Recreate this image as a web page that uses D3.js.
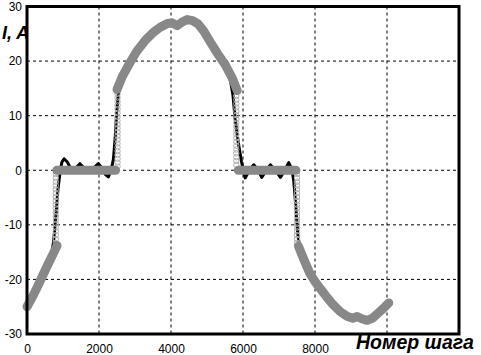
<!DOCTYPE html>
<html>
<head>
<meta charset="utf-8">
<script src="https://cdn.jsdelivr.net/npm/d3@7"></script>
<style>
  body { margin: 0; background: #fff; }
  text { font-family: Arial, "Liberation Sans", sans-serif; }
</style>
</head>
<body>
<div class="d3-content"></div>
<script>
const SVG_WIDTH = 481;
const SVG_HEIGHT = 355;
const PLOT = { left: 27, right: 459, top: 6.5, bottom: 334 };

// axis ticks
const xTicks = [0, 2000, 4000, 6000, 8000, 10000, 12000];
const xTickLabels = ['0', '2000', '4000', '6000', '8000', '', ''];
const yTicks = [-30, -20, -10, 0, 10, 20, 30];
const yTickLabels = ['-30', '-20', '-10', '0', '10', '20', '30'];

// reference (gray, thick) current, null = gap between segments
const refCurrent = [
  [0, -25], [150, -23.2], [300, -21.2], [450, -19.1], [600, -17], [720, -15.4], [835, -13.8],
  null,
  [830, 0], [2460, 0],
  null,
  [2500, 14.8], [2650, 17.2], [2850, 19.6], [3050, 21.8], [3300, 23.9], [3500, 25.2],
  [3700, 26.2], [3900, 26.9], [4030, 27.0], [4170, 26.5], [4300, 27.1], [4450, 27.6],
  [4600, 27.4], [4750, 26.8], [4900, 25.6], [5100, 23.4], [5300, 21.3], [5500, 19.4],
  [5700, 16.9], [5840, 14.6],
  null,
  [5870, 0], [7470, 0],
  null,
  [7540, -13.9], [7700, -16.5], [7850, -18.8], [8000, -20.4], [8150, -21.7], [8300, -23],
  [8500, -24.6], [8700, -25.9], [8900, -26.8], [9050, -27.1], [9170, -26.8], [9300, -27.2],
  [9450, -27.5], [9600, -27.1], [9750, -26.2], [9900, -25.3], [10050, -24.3]
];

// measured (black) current
const measCurrent = [
  [0, -25], [150, -23.2], [300, -21.2], [450, -19.1], [600, -17], [680, -15.6], [740, -13],
  [800, -8.5], [860, -3.5], [920, -0.3], [970, 1.5], [1030, 2.1], [1120, 1.5], [1240, 0],
  [1340, 0.3], [1470, 1.2], [1600, 0.3], [1720, 0], [1850, 0.4], [1980, 1.2], [2100, 0.3],
  [2180, -0.8], [2260, -1.2], [2330, -0.2], [2400, 2.0], [2450, 6], [2490, 10.5], [2540, 14.2],
  [2650, 17], [2850, 19.4], [3050, 21.7], [3300, 23.9], [3500, 25.2], [3700, 26.2],
  [3900, 26.9], [4030, 27.0], [4170, 26.5], [4300, 27.1], [4450, 27.6], [4600, 27.4],
  [4750, 26.8], [4900, 25.6], [5100, 23.4], [5300, 21.3], [5500, 19.4], [5650, 16.5],
  [5720, 13.8], [5780, 9.5], [5870, 5], [5960, 1.5], [6060, -1.4], [6180, 0], [6300, 1.0],
  [6420, 0], [6520, -1.3], [6650, 0], [6760, 1.0], [6900, 0], [7040, -1.3], [7160, 0],
  [7270, 1.4], [7360, 0.2], [7410, -2], [7460, -6], [7520, -11.5], [7580, -14.5],
  [7680, -17.2], [7850, -18.8], [8000, -20.4], [8150, -21.7], [8300, -23], [8500, -24.6],
  [8700, -25.9], [8900, -26.8], [9050, -27.1], [9170, -26.8], [9300, -27.2], [9450, -27.5],
  [9600, -27.1], [9750, -26.2], [9900, -25.3], [10050, -24.3]
];

// model points (open circles) on the switching fronts
const circleFronts = [
  { step: 800, values: [-14, -13.3, -12.6, -11.9, -11.2, -10.5, -9.8, -9.1, -8.4, -7.7,
                        -7, -6.3, -5.6, -4.9, -4.2, -3.5, -2.8, -2.1, -1.4, -0.7] },
  { step: 2515, values: [0.7, 1.4, 2.1, 2.8, 3.5, 4.2, 4.9, 5.6, 6.3, 7, 7.7, 8.4,
                         9.1, 9.8, 10.5, 11.2, 11.9, 12.6, 13.3, 14] },
  { step: 5815, values: [13.6, 12.9, 12.2, 11.5, 10.8, 10.1, 9.4, 8.7, 8, 7.3, 6.6,
                         5.9, 5.2, 4.5, 3.8, 3.1, 2.4, 1.7, 1.0] },
  { step: 7500, values: [-0.7, -1.4, -2.1, -2.8, -3.5, -4.2, -4.9, -5.6, -6.3, -7, -7.7,
                         -8.4, -9.1, -9.8, -10.5, -11.2, -11.9, -12.6, -13.3] }
];

const svg = d3.select('.d3-content')
  .append('svg')
  .attr('width', SVG_WIDTH)
  .attr('height', SVG_HEIGHT);

const xscale = d3.scaleLinear().domain([0, 12000]).range([PLOT.left, PLOT.right]);
const yscale = d3.scaleLinear().domain([-30, 30]).range([PLOT.bottom, PLOT.top]);

svg.append('rect')
   .attr('width', SVG_WIDTH).attr('height', SVG_HEIGHT).attr('fill', '#fff');

// grid
svg.append('g')
   .selectAll('line')
   .data(xTicks.slice(1, -1))
   .join('line')
   .attr('x1', d => xscale(d)).attr('x2', d => xscale(d))
   .attr('y1', PLOT.top).attr('y2', PLOT.bottom)
   .attr('stroke', '#000').attr('stroke-width', 1)
   .attr('stroke-dasharray', '3,3');

svg.append('g')
   .selectAll('line')
   .data(yTicks.slice(1, -1))
   .join('line')
   .attr('y1', d => yscale(d)).attr('y2', d => yscale(d))
   .attr('x1', PLOT.left).attr('x2', PLOT.right)
   .attr('stroke', '#000').attr('stroke-width', 1)
   .attr('stroke-dasharray', '3,3');

// axes (labels only, the frame is drawn below)
const xAxis = svg.append('g')
  .attr('transform', `translate(0, ${PLOT.bottom})`)
  .call(d3.axisBottom(xscale).tickValues(xTicks)
    .tickFormat((d, i) => xTickLabels[i]).tickSize(0).tickPadding(10));
xAxis.select('.domain').remove();
xAxis.selectAll('text').attr('font-size', 12).attr('font-family', 'Arial, "Liberation Sans", sans-serif');

const yAxis = svg.append('g')
  .attr('transform', `translate(${PLOT.left}, 0)`)
  .call(d3.axisLeft(yscale).tickValues(yTicks)
    .tickFormat((d, i) => yTickLabels[i]).tickSize(0).tickPadding(5));
yAxis.select('.domain').remove();
yAxis.selectAll('text').attr('font-size', 12).attr('font-family', 'Arial, "Liberation Sans", sans-serif');

const line = d3.line()
  .defined(d => d !== null)
  .x(d => xscale(d[0]))
  .y(d => yscale(d[1]));

// black measured line
svg.append('path')
   .datum(measCurrent)
   .attr('d', line)
   .attr('fill', 'none')
   .attr('stroke', '#000')
   .attr('stroke-width', 3)
   .attr('stroke-linejoin', 'round');

// open circles
const circlePoints = circleFronts.flatMap(f => f.values.map(v => [f.step, v]));
svg.append('g')
   .selectAll('circle')
   .data(circlePoints)
   .join('circle')
   .attr('cx', d => xscale(d[0]))
   .attr('cy', d => yscale(d[1]))
   .attr('r', 2.7)
   .attr('fill', 'none')
   .attr('stroke', '#b0b0b0')
   .attr('stroke-width', 1);

// gray reference line
svg.append('path')
   .datum(refCurrent)
   .attr('d', line)
   .attr('fill', 'none')
   .attr('stroke', '#888')
   .attr('stroke-width', 9)
   .attr('stroke-linecap', 'round')
   .attr('stroke-linejoin', 'round');

// frame
svg.append('rect')
   .attr('x', PLOT.left).attr('y', PLOT.top)
   .attr('width', PLOT.right - PLOT.left).attr('height', PLOT.bottom - PLOT.top)
   .attr('fill', 'none').attr('stroke', '#000').attr('stroke-width', 3);

// axis titles
svg.append('text')
   .text('I, A')
   .attr('x', 2).attr('y', 39)
   .attr('font-size', 18).attr('font-weight', 'bold').attr('font-style', 'italic');

svg.append('text')
   .text('Номер шага')
   .attr('x', 356).attr('y', 349)
   .attr('font-size', 19.5).attr('font-weight', 'bold').attr('font-style', 'italic');
</script>
</body>
</html>
